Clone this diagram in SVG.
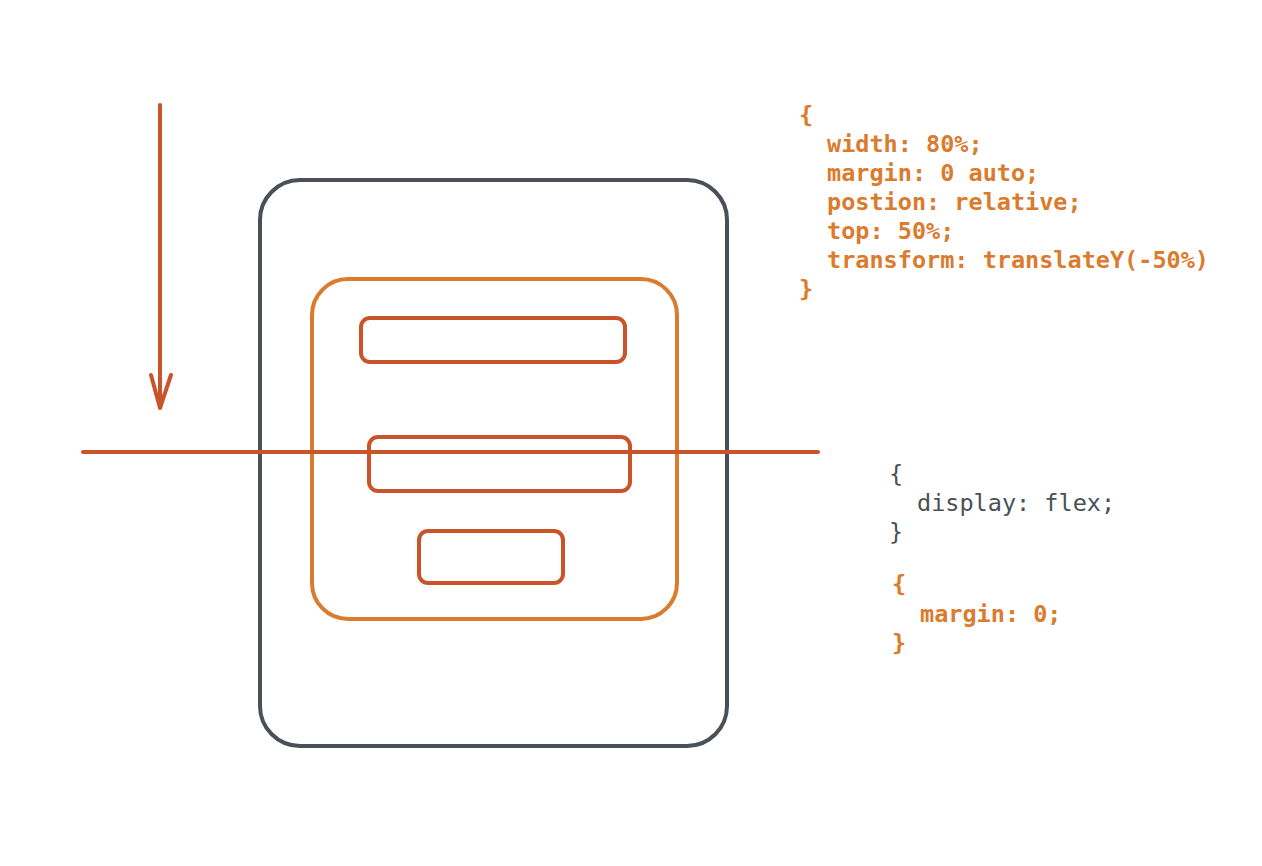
<svg xmlns="http://www.w3.org/2000/svg" width="1262" height="866" viewBox="0 0 1262 866">
<style>
.box{fill:none;stroke-width:4;stroke-linecap:round;stroke-linejoin:round}
.grey{stroke:#495057}
.org{stroke:#da7b2d}
.red{stroke:#ca5429}
.code{font-family:"DejaVu Sans Mono","Liberation Mono",monospace;font-size:23.5px;white-space:pre}
.torg{fill:#da7b2d;font-weight:bold}
.tgrey{fill:#495057}
</style>
<rect width="1262" height="866" fill="#ffffff"/>
<g id="outer"><rect class="box grey" x="260" y="180" width="467" height="566" rx="40"/></g>
<g id="inner"><rect class="box org" x="312" y="279" width="365" height="340" rx="36"/></g>
<g id="item1"><rect class="box red" x="361" y="318" width="264" height="44" rx="9"/></g>
<g id="item2"><rect class="box red" x="369" y="437" width="261" height="54" rx="9"/></g>
<g id="item3"><rect class="box red" x="419" y="531" width="144" height="52" rx="9"/></g>
<g id="connectors">
<line class="box red" x1="83" y1="452" x2="818" y2="452"/>
<path class="box red" d="M160 105 L160 408 M151 375 L160 408 L171 375"/>
</g>
<g id="code1" class="code torg">
<text x="799" y="123">{</text>
<text x="827" y="152">width: 80%;</text>
<text x="827" y="181">margin: 0 auto;</text>
<text x="827" y="210">postion: relative;</text>
<text x="827" y="239">top: 50%;</text>
<text x="827" y="268">transform: translateY(-50%)</text>
<text x="799" y="297">}</text>
</g>
<g id="code2" class="code tgrey">
<text x="889" y="482">{</text>
<text x="917" y="511">display: flex;</text>
<text x="889" y="540">}</text>
</g>
<g id="code3" class="code torg">
<text x="892" y="592">{</text>
<text x="920" y="622">margin: 0;</text>
<text x="892" y="651">}</text>
</g>
</svg>
